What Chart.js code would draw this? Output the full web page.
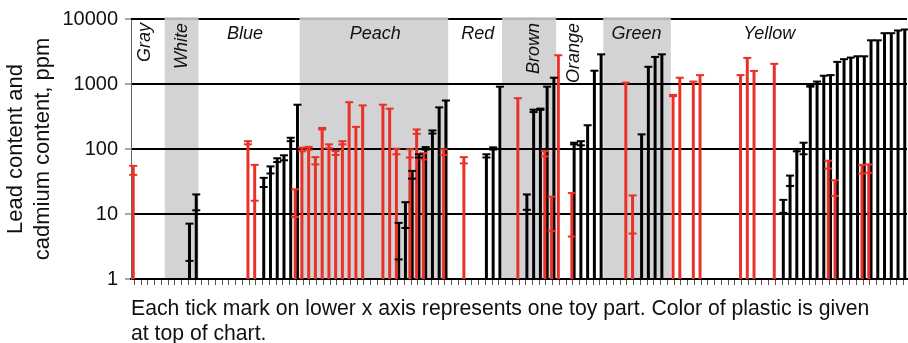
<!DOCTYPE html>
<html>
<head>
<meta charset="utf-8">
<script src="https://cdn.jsdelivr.net/npm/chart.js@4"></script>
<style>
  html, body { margin: 0; padding: 0; background: #fff; }
</style>
</head>
<body>
<canvas id="myChart" width="908" height="343"></canvas>
<script>
// one category per toy part
const partCount = 115;

// plastic colour groups (first / last part index)
const groupNames = ['Gray', 'White', 'Blue', 'Peach', 'Red', 'Brown', 'Orange', 'Green', 'Yellow'];
const groupFirst = [0, 5, 10, 25, 47, 55, 63, 70, 80];
const groupLast = [4, 9, 24, 46, 54, 62, 69, 79, 114];
const groupShaded = [false, true, false, true, false, true, false, true, false];

// cadmium (red) - max and min of replicate results, ppm
const cdPart = [0, 17, 18, 24, 25, 26, 27, 28, 29, 30, 31, 32, 33, 34, 37, 38, 39, 41, 42, 43, 46, 49, 57, 61, 62, 63, 65, 73, 74, 80, 81, 83, 84, 90, 91, 92, 95, 103, 104, 108, 109];
const cdHigh = [55, 132, 57, 24, 105, 108, 75, 211, 118, 93, 132, 525, 219, 468, 480, 418, 101, 99, 200, 86, 99, 75, 605, 93, 18.5, 2770, 21, 1050, 19.3, 680, 1250, 1090, 1370, 1370, 2520, 1590, 2040, 66, 33, 57, 58];
const cdLow = [40, 118, 16, 9, 92, 97, 58, 200, 103, 81, 118, null, null, null, null, null, 83, 74, 171, 69, 81, 60, null, 77, 5.5, null, 4.5, null, 5.0, 650, null, null, null, null, null, null, null, 50, 19, 42, 43];

// lead (black)
const pbPart = [8, 9, 19, 20, 21, 22, 23, 24, 39, 40, 41, 42, 43, 44, 45, 46, 52, 53, 54, 58, 59, 60, 61, 62, 65, 66, 67, 68, 69, 75, 76, 77, 78, 96, 97, 98, 99, 100, 101, 102, 103, 104, 105, 106, 107, 108, 109, 110, 111, 112, 113, 114];
const pbHigh = [7.1, 20, 36, 54, 72, 80, 149, 480, 7.3, 15.2, 46, 83, 107, 193, 437, 557, 83, 106, 910, 20, 403, 418, 910, 1250, 125, 132, 232, 1600, 2860, 168, 1840, 2610, 2860, 16.5, 39, 99, 125, 945, 1090, 1340, 1370, 2190, 2410, 2550, 2670, 2670, 4700, 4700, 6050, 6050, 6650, 6900];
const pbLow = [1.9, 11.4, 26, 42, 63, 67, 132, null, 2.0, 6.1, 35, 74, 98, 173, null, null, 74, 98, null, 11.6, 370, 400, null, null, 118, 114, null, null, null, null, null, null, null, 10.4, 27, 92, 83, 910, null, null, null, null, null, null, null, null, null, null, null, null, null, null];

const yTicks = [1, 10, 100, 1000, 10000];
const yTitle = ['Lead content and', 'cadmium content, ppm'];
const footnote = ['Each tick mark on lower x axis represents one toy part. Color of plastic is given', 'at top of chart.'];

const FONT = '"Liberation Sans", Arial, sans-serif';
const RED = '#ea3128';
const BLACK = '#000000';
const BAND = '#d3d2d4';

// where the group names sit (in part units) and which are written sideways
const labelSpot = { Gray: 1.6, White: 7.1, Blue: 16.4, Peach: 35.7, Red: 50.9, Brown: 59.2, Orange: 65.2, Green: 74.4, Yellow: 94.1 };
const sideways = ['Gray', 'White', 'Brown', 'Orange'];

const labels = Array.from({ length: partCount }, (_, i) => String(i + 1));

const spread = (parts, vals, asBar) => {
    const out = new Array(partCount).fill(null);
    parts.forEach((p, i) => {
        if (vals[i] == null) return;
        out[p] = asBar ? [1, vals[i]] : vals[i];
    });
    return out;
};

const bandPlugin = {
    id: 'bands',
    beforeDraw(chart) {
        const { ctx, chartArea: a, scales: { x } } = chart;
        const w = x.getPixelForValue(1) - x.getPixelForValue(0);
        ctx.save();
        ctx.fillStyle = BAND;
        groupNames.forEach((g, i) => {
            if (!groupShaded[i]) return;
            const l = x.getPixelForValue(groupFirst[i]) - w / 2;
            const r = x.getPixelForValue(groupLast[i]) + w / 2;
            ctx.fillRect(l, a.top - 2, r - l, a.bottom - a.top + 2);
        });
        ctx.restore();
    },
    beforeDatasetsDraw(chart) {
        const { ctx, chartArea: a, scales: { x } } = chart;
        const w = x.getPixelForValue(1) - x.getPixelForValue(0);
        ctx.save();
        // top frame: black over the white groups, thin grey over the shaded ones
        groupNames.forEach((g, i) => {
            const l = Math.max(a.left, x.getPixelForValue(groupFirst[i]) - w / 2);
            const r = Math.min(a.right, x.getPixelForValue(groupLast[i]) + w / 2);
            ctx.strokeStyle = groupShaded[i] ? '#9a9a9a' : '#000';
            ctx.lineWidth = groupShaded[i] ? 1 : 2;
            ctx.beginPath();
            ctx.moveTo(l, a.top);
            ctx.lineTo(r, a.top);
            ctx.stroke();
        });
        // group names
        ctx.fillStyle = '#111';
        ctx.font = 'italic 18px ' + FONT;
        groupNames.forEach((g) => {
            const px = x.getPixelForValue(labelSpot[g]);
            if (sideways.includes(g)) {
                ctx.save();
                ctx.translate(px, a.top + 4);
                ctx.rotate(-Math.PI / 2);
                ctx.textAlign = 'right';
                ctx.textBaseline = 'middle';
                ctx.fillText(g, 0, 0);
                ctx.restore();
            } else {
                ctx.textAlign = 'center';
                ctx.textBaseline = 'middle';
                ctx.fillText(g, px, a.top + 15);
            }
        });
        ctx.restore();
    }
};

const capPlugin = {
    id: 'caps',
    afterDatasetsDraw(chart) {
        const { ctx, scales: { y } } = chart;
        ctx.save();
        ctx.lineWidth = 2;
        chart.data.datasets.forEach((ds, di) => {
            const meta = chart.getDatasetMeta(di);
            meta.data.forEach((bar, i) => {
                if (ds.data[i] == null) return;
                ctx.strokeStyle = ds.backgroundColor;
                const marks = [ds.data[i][1]];
                if (ds.lows[i] != null) marks.push(ds.lows[i]);
                marks.forEach((v) => {
                    const py = y.getPixelForValue(v);
                    ctx.beginPath();
                    ctx.moveTo(bar.x - 4, py);
                    ctx.lineTo(bar.x + 4, py);
                    ctx.stroke();
                });
            });
        });
        ctx.restore();
    },
    afterDraw(chart) {
        const { ctx, chartArea: a } = chart;
        ctx.save();
        ctx.fillStyle = '#111';
        ctx.font = '21.2px ' + FONT;
        ctx.textAlign = 'left';
        ctx.textBaseline = 'alphabetic';
        ctx.fillText(footnote[0], a.left, 315);
        ctx.fillText(footnote[1], a.left, 340);
        ctx.restore();
    }
};

const chartCtx = document.getElementById('myChart').getContext('2d');
const grafica = new Chart(chartCtx, {
    type: 'bar',
    data: {
        labels: labels,
        datasets: [
            {
                label: 'Cadmium',
                data: spread(cdPart, cdHigh, true),
                lows: spread(cdPart, cdLow, false),
                backgroundColor: RED,
                categoryPercentage: 0.68,
                barPercentage: 1.3
            },
            {
                label: 'Lead',
                data: spread(pbPart, pbHigh, true),
                lows: spread(pbPart, pbLow, false),
                backgroundColor: BLACK,
                categoryPercentage: 0.68,
                barPercentage: 1.3
            }
        ]
    },
    options: {
        responsive: false,
        animation: false,
        layout: { padding: { top: 17, right: 1, left: 0, bottom: 0 } },
        plugins: {
            legend: { display: false },
            tooltip: { enabled: false }
        },
        scales: {
            x: {
                offset: true,
                grid: {
                    offset: false,
                    drawOnChartArea: false,
                    drawTicks: true,
                    tickLength: 6,
                    tickColor: '#555',
                    tickWidth: 1
                },
                border: { display: true, color: '#000', width: 2 },
                ticks: { display: false, autoSkip: false },
                afterFit(s) { s.height = 64; }
            },
            y: {
                type: 'logarithmic',
                min: 1,
                max: 10000,
                afterBuildTicks(s) { s.ticks = yTicks.map(v => ({ value: v })); },
                ticks: {
                    callback: (v) => String(v),
                    font: { family: FONT, size: 20 },
                    color: '#111',
                    padding: 7
                },
                grid: {
                    color: (c) => (c.tick && c.tick.value === 10000 ? 'rgba(0,0,0,0)' : '#000'),
                    lineWidth: 2,
                    tickLength: 6,
                    tickColor: '#555',
                    tickWidth: 1
                },
                border: { color: '#666', width: 1 },
                title: {
                    display: true,
                    text: yTitle,
                    font: { family: FONT, size: 22 },
                    color: '#111',
                    padding: { top: 3, bottom: 0 }
                },
                afterFit(s) { s.width = 131; }
            }
        }
    },
    plugins: [bandPlugin, capPlugin]
});
</script>
</body>
</html>
